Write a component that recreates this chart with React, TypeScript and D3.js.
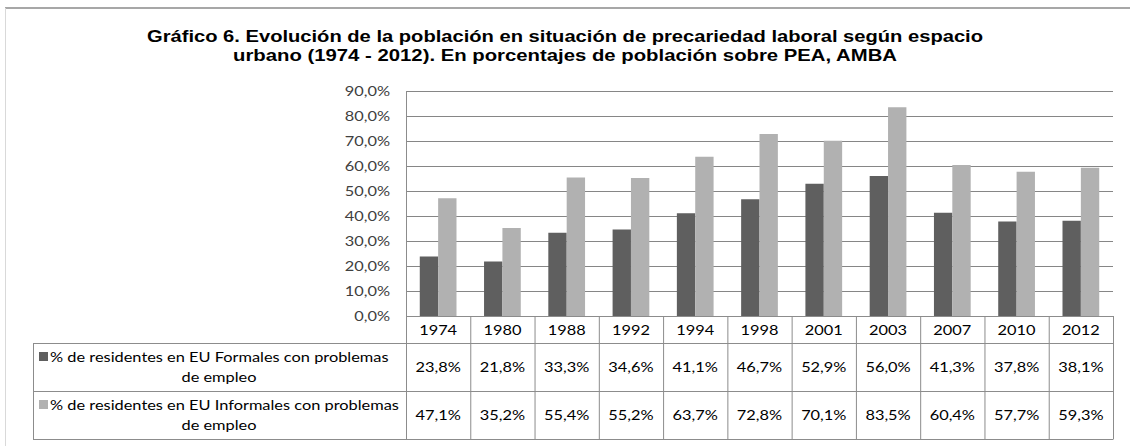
import React from "react";
import * as d3 from "d3";

const years = ["1974", "1980", "1988", "1992", "1994", "1998", "2001", "2003", "2007", "2010", "2012"];
const formales = [23.8, 21.8, 33.3, 34.6, 41.1, 46.7, 52.9, 56.0, 41.3, 37.8, 38.1];
const informales = [47.1, 35.2, 55.4, 55.2, 63.7, 72.8, 70.1, 83.5, 60.4, 57.7, 59.3];
const yTicks = [0, 10, 20, 30, 40, 50, 60, 70, 80, 90];
const seriesNames = [
  ["% de residentes en EU Formales con problemas", "de empleo"],
  ["% de residentes en EU Informales con problemas", "de empleo"],
];
const titleLines = [
  "Gráfico 6. Evolución de la población en situación de precariedad laboral según espacio",
  "urbano (1974 - 2012). En porcentajes de población sobre PEA, AMBA",
];

const fmt = (v: number) => v.toFixed(1).replace(".", ",") + "%";

const FONT = "Lato, 'Open Sans', sans-serif";
const SX = 1.17;

function T(props: { x: number; y: number; anchor?: string; fill?: string; children: React.ReactNode }) {
  const { x, y, anchor = "start", fill = "#000", children } = props;
  return (
    <text transform={`translate(${x},${y}) scale(${SX},1)`} textAnchor={anchor} fontFamily={FONT} fontSize={14} fill={fill}>
      {children}
    </text>
  );
}

export default function App() {
  const W = 1130, H = 446;
  const plotL = 406, plotR = 1113, plotT = 91, plotB = 316;
  const tableL = 33;
  const rowYearB = 343, row1B = 391, row2B = 439;
  const colors = ["#5f5f5f", "#b1b1b1"];

  const x = d3.scaleBand<string>().domain(years).range([plotL, plotR]).paddingInner(0).paddingOuter(0);
  const y = d3.scaleLinear().domain([0, 90]).range([plotB, plotT]);
  const bw = x.bandwidth() / 3.5;
  const series = [formales, informales];
  const rows = [
    { top: rowYearB, bottom: row1B },
    { top: row1B, bottom: row2B },
  ];
  const border = "#8c8c8c";
  const titleLens = [836, 664];

  return (
    <svg width={W} height={H} style={{ position: "absolute", left: 0, top: 0, background: "#fff" }}>
      <rect x={0} y={0} width={W} height={H} fill="#fff" />
      {/* chart outer border */}
      <line x1={5} x2={W} y1={8} y2={8} stroke="#8a8a8a" strokeWidth={1.5} />
      <line x1={5.5} x2={5.5} y1={8} y2={H} stroke="#d9d9d9" strokeWidth={1} />

      {titleLines.map((t, i) => (
        <text
          key={i}
          x={565}
          y={42 + i * 19}
          textAnchor="middle"
          fontFamily="'Liberation Sans', Arial, sans-serif"
          fontWeight="bold"
          fontSize={16.5}
          fill="#000"
          textLength={titleLens[i]}
          lengthAdjust="spacingAndGlyphs"
        >
          {t}
        </text>
      ))}

      {/* gridlines */}
      {yTicks.map((t) => (
        <line key={t} x1={plotL} x2={plotR} y1={Math.round(y(t)) + 0.5} y2={Math.round(y(t)) + 0.5} stroke="#868686" strokeWidth={1} />
      ))}
      {/* y tick labels */}
      {yTicks.map((t) => (
        <T key={"l" + t} x={390} y={y(t) + 5} anchor="end" fill="#404040">
          {fmt(t)}
        </T>
      ))}

      {/* bars */}
      {series.map((s, si) =>
        s.map((v, i) => (
          <rect
            key={si + "-" + i}
            x={(x(years[i]) as number) + bw * 0.75 + si * bw}
            y={y(v)}
            width={bw}
            height={y(0) - y(v)}
            fill={colors[si]}
          />
        ))
      )}

      {/* axis line */}
      <line x1={plotL + 0.5} x2={plotL + 0.5} y1={plotT} y2={row2B} stroke={border} strokeWidth={1} />

      {/* data table */}
      <line x1={plotL} x2={plotR} y1={plotB + 0.5} y2={plotB + 0.5} stroke={border} />
      {years.map((yr, i) => (
        <g key={yr}>
          <line x1={(x(yr) as number) + x.bandwidth() + 0.5} x2={(x(yr) as number) + x.bandwidth() + 0.5} y1={plotB} y2={row2B} stroke={border} />
          <T x={(x(yr) as number) + x.bandwidth() / 2} y={335} anchor="middle">
            {yr}
          </T>
          {series.map((s, si) => (
            <T key={si} x={(x(yr) as number) + x.bandwidth() / 2} y={(rows[si].top + rows[si].bottom) / 2 + 5} anchor="middle">
              {fmt(s[i])}
            </T>
          ))}
        </g>
      ))}
      <line x1={tableL} x2={plotR} y1={rowYearB + 0.5} y2={rowYearB + 0.5} stroke={border} />
      <line x1={tableL} x2={plotR} y1={row1B + 0.5} y2={row1B + 0.5} stroke={border} />
      <line x1={tableL} x2={plotR + 0.5} y1={row2B + 0.5} y2={row2B + 0.5} stroke={border} />
      <line x1={tableL + 0.5} x2={tableL + 0.5} y1={rowYearB} y2={row2B} stroke={border} />

      {seriesNames.map((lines, si) => (
        <g key={si}>
          <rect x={39} y={rows[si].top + 9} width={9} height={9} fill={colors[si]} />
          <T x={50} y={rows[si].top + 19}>
            {lines[0]}
          </T>
          <T x={219} y={rows[si].top + 39} anchor="middle">
            {lines[1]}
          </T>
        </g>
      ))}
    </svg>
  );
}
